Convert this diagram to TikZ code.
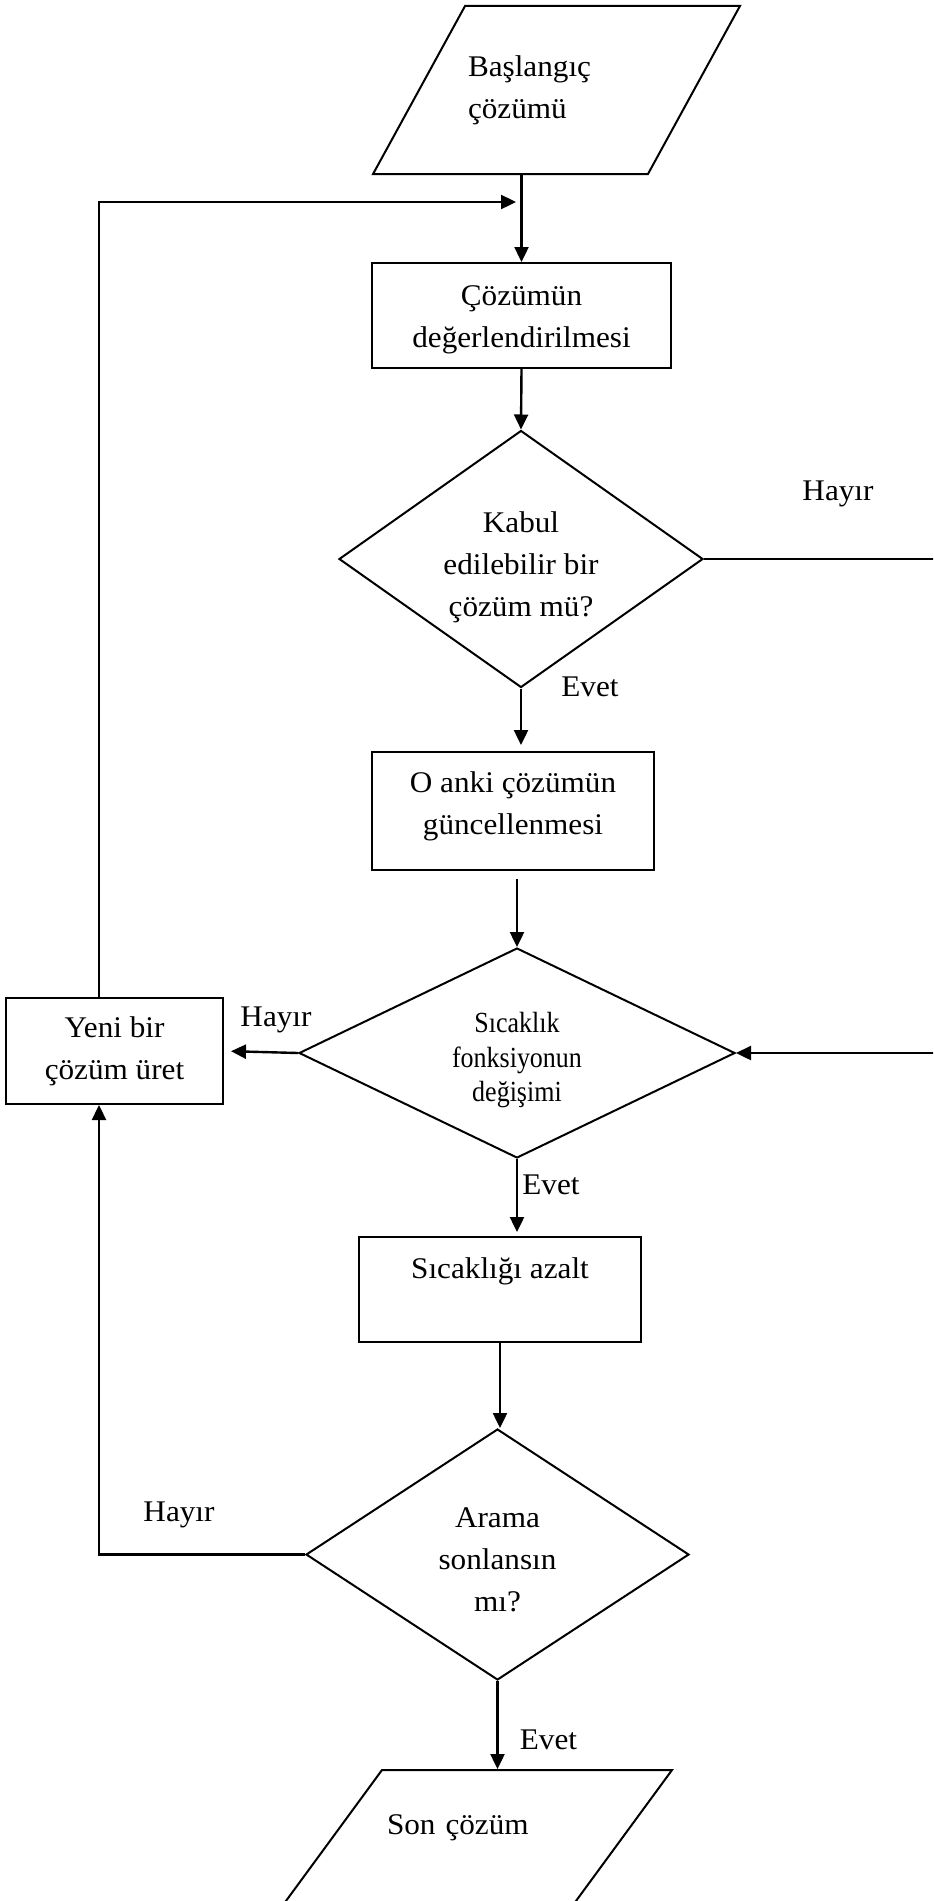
\documentclass[tikz,border=0pt]{standalone}
\usepackage{fontspec}
\setmainfont{Liberation Serif}[FakeStretch=1.04]
\newfontfamily\narrowfont{Liberation Serif}[FakeStretch=0.89]
\usetikzlibrary{shapes.geometric,arrows.meta}

\newcommand{\flowsize}{\fontsize{15pt}{21pt}\selectfont}
\newcommand{\tempsize}{\narrowfont\fontsize{14.6pt}{17.25pt}\selectfont}

\begin{document}
\begin{tikzpicture}[x=0.5pt, y=-0.5pt,
    block/.style={rectangle, draw, line width=1pt, inner sep=0pt, align=center, font=\flowsize},
    decision/.style={diamond, draw, line width=1pt, inner sep=0pt, align=center, font=\flowsize},
    io/.style={trapezium, draw, line width=1pt, inner xsep=0pt, align=left, trapezium stretches body, font=\flowsize},
    answer/.style={inner sep=0pt, font=\flowsize},
    flow/.style={-{Triangle[length=7.5pt,width=7pt]}, line width=1.2pt}]
          \useasboundingbox (0,0) rectangle (933,1901);
          \clip (0,0) rectangle (933,1901);
          \node[io, text width=88.5pt, inner ysep=24.75pt, minimum width=183.5pt, minimum height=84pt,
                trapezium left angle=61.3, trapezium right angle=118.7]
                (start)  at (556.5,90)    {Başlangıç\\çözümü};
          \node[block, minimum width=149.5pt, minimum height=52.5pt]
                (eval)   at (521.5,315.5) {\rule{0pt}{14.3pt}Çözümün\\değerlendirilmesi};
          \node[decision, minimum width=182pt, minimum height=128.5pt, aspect=1.42]
                (accept) at (521,559)     {\rule{0pt}{18.8pt}Kabul\\edilebilir bir\\çözüm mü?};
          \node[block, minimum width=141pt, minimum height=59pt]
                (update) at (513,811)     {O anki çözümün\\güncellenmesi\rule[-8pt]{0pt}{8pt}};
          \node[decision, minimum width=218pt, minimum height=105pt, aspect=2.08, font=\tempsize]
                (temp)   at (517,1053)    {\rule{0pt}{17.3pt}Sıcaklık\\fonksiyonun\\değişimi};
          \node[block, minimum width=108.5pt, minimum height=53pt]
                (newsol) at (114.5,1051)  {Yeni bir\\çözüm üret};
          \node[block, minimum width=141pt, minimum height=52.5pt, text height=11pt, text depth=22.5pt]
                (cool)   at (500,1289.5)  {Sıcaklığı azalt};
          \node[decision, minimum width=191.5pt, minimum height=125.5pt, aspect=1.53]
                (stop)   at (497.5,1554.5) {\rule{0pt}{15.2pt}Arama\\sonlansın\\mı?};
          \node[io, text width=85pt, inner ysep=21pt, minimum width=200pt, minimum height=75pt,
                text height=11pt, text depth=22pt,
                trapezium left angle=53.75, trapezium right angle=126.25]
                (final)  at (472,1845)    {Son çözüm};
          \node[answer] (hayir1) at (838,494)   {Hayır};
          \node[answer] (evet1)  at (590,687)   {Evet};
          \node[answer] (hayir2) at (276,1020)  {Hayır};
          \node[answer] (evet2)  at (551,1185)  {Evet};
          \node[answer] (hayir3) at (179,1515)  {Hayır};
          \node[answer] (evet3)  at (548.5,1740) {Evet};
          \coordinate (join)    at (516,202);
          \coordinate (rail)    at (99,0);
          \coordinate (offpage) at (960,0);
          \path[flow]
            (start.south -| eval.north) edge (eval.north)
            (eval.south) edge (accept.north)
            (accept.south) edge[shorten >=3pt] (accept.south |- update.north)
            (update.south -| temp.north) edge[shorten <=4pt] (temp.north)
            (temp.west) edge[shorten >=3.5pt] (newsol.east)
            (temp.south) edge[shorten >=2pt] (temp.south |- cool.north)
            (cool.south) edge (cool.south |- stop.north)
            (stop.south) edge (stop.south |- final.north)
            ;
          \draw[flow] (rail |- newsol.north) |- (join);
          \draw[flow] (stop.west) -| (rail |- newsol.south);
          \draw[flow] (accept.east) -- (accept.east -| offpage) |- (temp.east);
\end{tikzpicture}
\end{document}
